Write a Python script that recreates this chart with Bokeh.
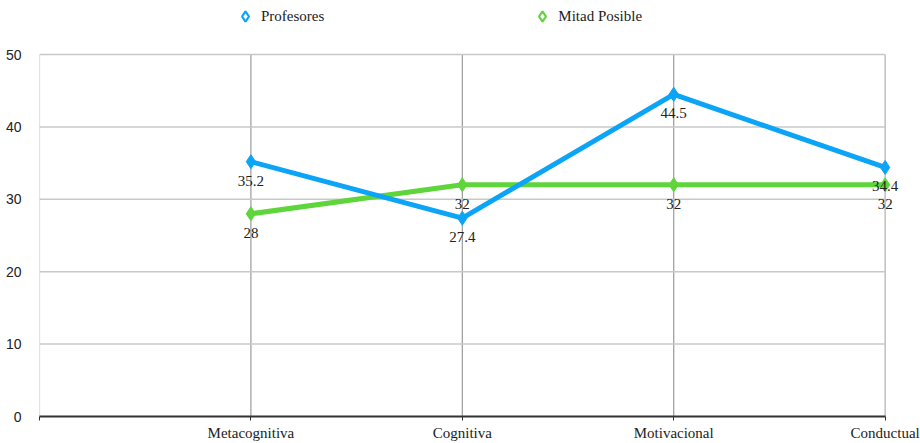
from bokeh.plotting import figure
from bokeh.models import ColumnDataSource, FixedTicker, Legend, LegendItem
from bokeh.core.properties import value
from bokeh.embed import file_html
from bokeh.resources import INLINE

categories = ["Metacognitiva", "Cognitiva", "Motivacional", "Conductual"]
positions = [1, 2, 3, 4]
profesores = [35.2, 27.4, 44.5, 34.4]
mitad_posible = [28, 32, 32, 32]
y_ticks = [0, 10, 20, 30, 40, 50]

BLUE = "#0ca4f6"
GREEN = "#5ed53a"
SERIF = "Liberation Serif"

x_end = positions[-1]
y_top = y_ticks[-1]

p = figure(width=920, height=443, x_range=(0, 4.12), y_range=(0, 57.46),
           output_backend="svg", toolbar_location=None,
           min_border_left=39, min_border_right=10, min_border_top=0, min_border_bottom=27)
p.outline_line_color = None
p.background_fill_color = "white"
p.border_fill_color = "white"
p.xgrid.visible = False
p.ygrid.visible = False

# grid lines / frame box bounded to the data area
vx = [0] + positions
vcol = ["#c8c8c8"] + ["#9a9a9a"] * (len(positions) - 1) + ["#b0b0b0"]
p.segment(x0=vx, y0=[0] * len(vx), x1=vx, y1=[y_top] * len(vx), line_color=vcol, line_width=1.2)
hy = y_ticks[1:]
p.segment(x0=[0] * len(hy), y0=hy, x1=[x_end] * len(hy), y1=hy, line_color="#c8c8c8", line_width=1.5)

# axes
p.xaxis.ticker = FixedTicker(ticks=[0] + positions)
p.xaxis.bounds = (0, x_end)
overrides = {0: ""}
for pos, cat in zip(positions, categories):
    overrides[pos] = cat
p.xaxis.major_label_overrides = overrides
p.xaxis.axis_line_color = "#333333"
p.xaxis.axis_line_width = 2
p.xaxis.major_tick_line_color = "#333333"
p.xaxis.major_tick_out = 4
p.xaxis.major_tick_in = 0
p.xaxis.minor_tick_line_color = None
p.xaxis.major_label_text_font = SERIF
p.xaxis.major_label_text_font_size = "15px"
p.xaxis.major_label_text_color = "#222222"
p.xaxis.major_label_standoff = 4

p.yaxis.ticker = FixedTicker(ticks=y_ticks)
p.yaxis.axis_line_color = None
p.yaxis.major_tick_line_color = None
p.yaxis.minor_tick_line_color = None
p.yaxis.major_label_text_font = "Liberation Sans"
p.yaxis.major_label_text_font_size = "14px"
p.yaxis.major_label_text_color = "#222222"
p.yaxis.major_label_standoff = 12

src_p = ColumnDataSource(dict(x=positions, y=profesores, t=[str(v) for v in profesores]))
src_m = ColumnDataSource(dict(x=positions, y=mitad_posible, t=[str(v) for v in mitad_posible]))

p.line("x", "y", source=src_m, line_color=GREEN, line_width=5)
p.scatter("x", "y", source=src_m, marker="diamond", size=14, fill_color=GREEN, line_color=GREEN)
p.line("x", "y", source=src_p, line_color=BLUE, line_width=5)
p.scatter("x", "y", source=src_p, marker="diamond", size=14, fill_color=BLUE, line_color=BLUE)

for src in (src_p, src_m):
    p.text("x", "y", text="t", source=src, y_offset=19, text_align="center",
           text_baseline="middle", text_font=value(SERIF), text_font_size="15px",
           text_color="#222222")

# legend proxies (hollow diamonds), not drawn on the plot (NaN coordinates)
nan = float("nan")
proxy1 = ColumnDataSource(dict(x=[nan], y=[nan]))
proxy2 = ColumnDataSource(dict(x=[nan], y=[nan]))
r1 = p.scatter("x", "y", source=proxy1, marker="diamond", size=11, fill_color="white",
               line_color=BLUE, line_width=2.2)
r2 = p.scatter("x", "y", source=proxy2, marker="diamond", size=11, fill_color="white",
               line_color=GREEN, line_width=2.2)
legend = Legend(items=[LegendItem(label="Profesores", renderers=[r1]),
                       LegendItem(label="Mitad Posible", renderers=[r2])],
                orientation="horizontal", location=(193, 387),
                spacing=205, glyph_width=26, glyph_height=26, label_standoff=3,
                label_text_font=SERIF, label_text_font_size="15px",
                label_text_color="#222222", border_line_color=None,
                background_fill_alpha=0, padding=0, margin=0)
p.add_layout(legend, "center")

open("out.html", "w").write(file_html(p, INLINE))
